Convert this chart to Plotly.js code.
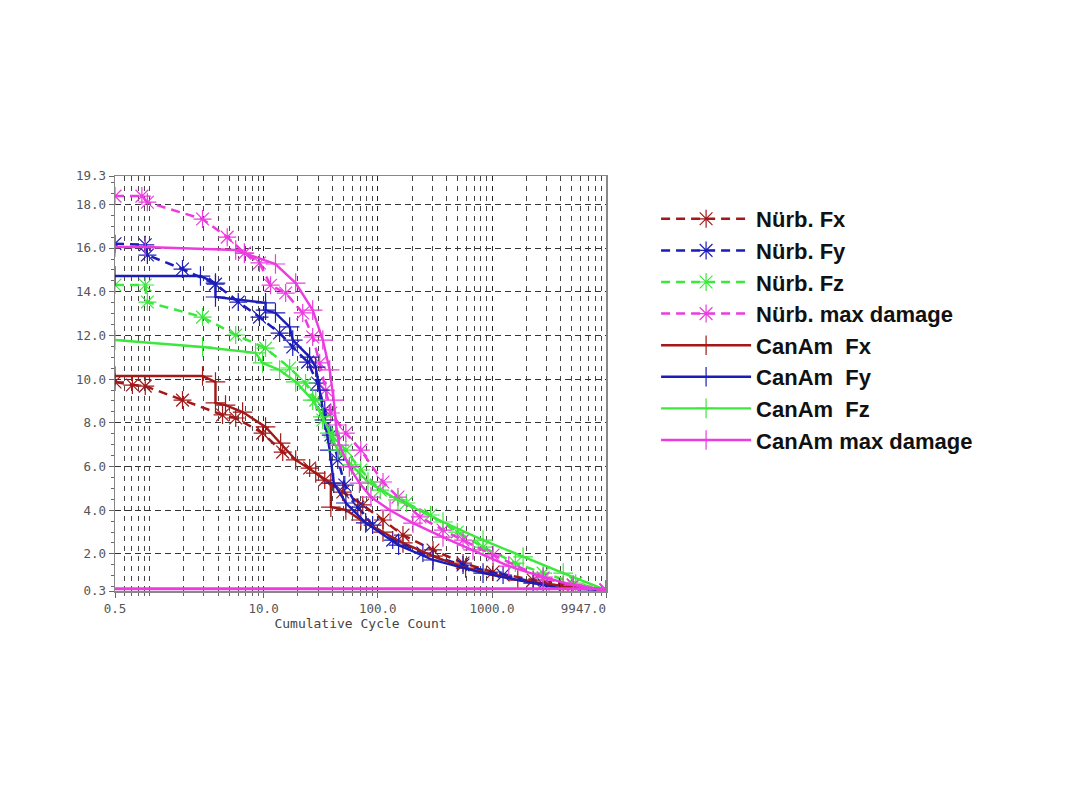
<!DOCTYPE html>
<html>
<head>
<meta charset="utf-8">
<script src="https://cdn.plot.ly/plotly-3.0.1.min.js"></script>
<style>
    html, body { margin: 0; padding: 0; background: white; }
    #chart { width: 1080px; height: 810px; }
</style>
</head>
<body>
<div id="chart"></div>
<script>
// Level values (x = cumulative cycle count, y = load level)
const nurbFxX = [0.5, 0.71, 0.92, 1.95, 4.37, 5.7, 9.8, 14.7, 25.3, 34.3, 49.3, 73.8, 111, 166, 304, 557, 1020, 2290, 5140, 9947];
const nurbFxY = [9.87, 9.73, 9.68, 9.04, 8.36, 8.22, 7.53, 6.66, 5.93, 5.38, 4.83, 4.24, 3.55, 2.86, 2.18, 1.58, 1.17, 0.80, 0.57, 0.34];

const nurbFyX = [0.5, 0.92, 0.96, 1.95, 3.79, 6.0, 9.2, 13.8, 18.0, 24.3, 29.7, 34.3, 38.8, 44.6, 51.4, 66.8, 90, 135, 248, 557, 1249, 2800, 9947];
const nurbFyY = [16.2, 16.15, 15.68, 15.04, 14.35, 13.53, 12.84, 12.11, 11.47, 10.78, 9.82, 8.59, 7.44, 6.30, 5.15, 4.14, 3.32, 2.63, 2.04, 1.49, 1.03, 0.62, 0.34];

const nurbFzX = [0.5, 0.92, 0.96, 2.92, 5.7, 10.4, 16.9, 23.3, 28.6, 33.0, 40.3, 52.5, 71, 105, 178, 290, 496, 834, 1600, 2800, 5400, 9947];
const nurbFzY = [14.31, 14.31, 13.53, 12.84, 12.02, 11.42, 10.51, 9.82, 9.04, 8.13, 7.35, 6.75, 5.84, 4.92, 4.33, 3.78, 3.0, 2.31, 1.58, 1.12, 0.66, 0.34];

const nurbMaxX = [0.5, 0.86, 0.96, 2.92, 4.8, 6.8, 9.2, 11.5, 15.6, 22.0, 26.9, 31.0, 35, 38.8, 52.5, 71, 111, 150, 234, 372, 557, 1020, 2800, 5140, 9947];
const nurbMaxY = [18.38, 18.38, 18.1, 17.33, 16.5, 15.77, 15.32, 14.3, 13.94, 13.03, 11.93, 10.74, 9.5, 8.45, 7.53, 6.75, 5.29, 4.6, 3.69, 3.09, 2.63, 1.95, 0.90, 0.57, 0.34];

const canAmFxX = [0.5, 2.92, 3.79, 3.79, 4.64, 6.55, 10.4, 14.1, 19.1, 28.6, 38.8, 38.8, 52.5, 71, 111, 166, 304, 587, 1680, 4200, 9947];
const canAmFxY = [10.14, 10.14, 9.87, 8.91, 8.81, 8.49, 7.81, 7.07, 6.30, 5.70, 5.24, 4.14, 4.01, 3.55, 3.0, 2.5, 1.9, 1.35, 0.80, 0.53, 0.34];

const canAmFyX = [0.5, 2.8, 3.79, 3.79, 10.4, 10.4, 12.7, 16.9, 18.0, 25.3, 28.6, 31.0, 34.3, 37.9, 41.1, 52.5, 78.3, 152, 304, 834, 2290, 3890, 9947];
const canAmFyY = [14.72, 14.72, 14.4, 13.76, 13.49, 13.16, 13.03, 12.39, 11.79, 11.01, 10.55, 9.5, 8.13, 6.75, 5.24, 4.33, 3.42, 2.4, 1.72, 1.12, 0.66, 0.43, 0.34];

const canAmFzX = [0.5, 2.92, 8.5, 9.8, 13.8, 19.1, 26.9, 33.0, 37.9, 44.6, 58.8, 82, 150, 372, 834, 1870, 4200, 9947];
const canAmFzY = [11.79, 11.47, 11.2, 10.74, 10.42, 9.87, 9.04, 8.27, 7.53, 6.75, 6.07, 5.29, 4.47, 3.46, 2.63, 1.86, 1.12, 0.34];

const canAmMaxX = [0.5, 0.92, 5.7, 6.8, 12.7, 19.1, 26.9, 33.0, 37.9, 41.1, 43.0, 46.0, 56.3, 69.0, 87, 128, 203, 372, 681, 1400, 2800, 5140, 9947];
const canAmMaxY = [16.05, 16.05, 15.91, 15.77, 15.27, 14.4, 13.16, 11.79, 10.42, 9.04, 7.9, 6.98, 5.98, 5.24, 4.6, 4.0, 3.41, 2.77, 2.18, 1.44, 0.94, 0.57, 0.34];

// flat magenta line along the bottom of the plot
const canAmBaseX = [0.5, 9947];
const canAmBaseY = [0.4, 0.4];

// Axis ticks
const xTickVals = [0.5, 10, 100, 1000, 9947];
const xTickText = ['0.5', '10.0', '100.0', '1000.0', '9947.0\u00a0\u00a0\u00a0\u00a0\u00a0\u00a0'];
const yTickVals = [0.3, 2, 4, 6, 8, 10, 12, 14, 16, 18, 19.3];
const yTickText = ['0.3', '2.0', '4.0', '6.0', '8.0', '10.0', '12.0', '14.0', '16.0', '18.0', '19.3'];

const darkRed = '#a31818';
const blue = '#1c1cb8';
const green = '#3ce83c';
const magenta = '#ec3cdf';

// Nürb. runs: dashed with asterisks, CanAm runs: solid with crosses
function nurbTrace(name, x, y, color) {
    return {
        x: x, y: y, name: name,
        type: 'scatter', mode: 'lines+markers',
        line: { color: color, width: 2.5, dash: '9px,6px' },
        marker: { symbol: 'asterisk-open', size: 15, line: { color: color, width: 1.2 } }
    };
}

function canAmTrace(name, x, y, color) {
    return {
        x: x, y: y, name: name,
        type: 'scatter', mode: 'lines+markers',
        line: { color: color, width: 2.4 },
        marker: { symbol: 'cross-thin-open', size: 14, line: { color: color, width: 1.2 } }
    };
}

const traces = [
    nurbTrace('Nürb. Fx', nurbFxX, nurbFxY, darkRed),
    nurbTrace('Nürb. Fy', nurbFyX, nurbFyY, blue),
    nurbTrace('Nürb. Fz', nurbFzX, nurbFzY, green),
    nurbTrace('Nürb. max damage', nurbMaxX, nurbMaxY, magenta),
    canAmTrace('CanAm\u00a0 Fx', canAmFxX, canAmFxY, darkRed),
    canAmTrace('CanAm\u00a0 Fy', canAmFyX, canAmFyY, blue),
    canAmTrace('CanAm\u00a0 Fz', canAmFzX, canAmFzY, green),
    canAmTrace('CanAm max damage', canAmMaxX, canAmMaxY, magenta),
    {
        x: canAmBaseX, y: canAmBaseY,
        type: 'scatter', mode: 'lines',
        line: { color: magenta, width: 3 },
        showlegend: false, hoverinfo: 'skip'
    }
];

const tickFont = { family: 'DejaVu Sans Mono', size: 12.5, color: '#555' };

const layout = {
    width: 1080,
    height: 810,
    margin: { l: 115, r: 474, t: 176, b: 219 },
    paper_bgcolor: 'white',
    plot_bgcolor: 'white',
    showlegend: true,
    xaxis: {
        type: 'log',
        range: [Math.log10(0.5), Math.log10(9947)],
        tickmode: 'array',
        tickvals: xTickVals,
        ticktext: xTickText,
        tickfont: tickFont,
        ticks: 'outside',
        ticklen: 5,
        tickcolor: '#666',
        showline: true,
        mirror: true,
        linecolor: '#888',
        linewidth: 1.5,
        showgrid: true,
        gridcolor: '#222',
        griddash: '5px,5px',
        gridwidth: 1,
        zeroline: false,
        minor: {
            dtick: 'D1',
            ticks: 'outside',
            ticklen: 3,
            tickcolor: '#666',
            showgrid: true,
            gridcolor: '#444',
            griddash: '5px,5px',
            gridwidth: 1
        },
        title: {
            text: 'Cumulative Cycle Count',
            font: { family: 'DejaVu Sans Mono', size: 13, color: '#444' },
            standoff: 4
        }
    },
    yaxis: {
        range: [0.3, 19.3],
        tickmode: 'array',
        tickvals: yTickVals,
        ticktext: yTickText,
        tickfont: tickFont,
        ticks: 'outside',
        ticklen: 5,
        tickcolor: '#666',
        showline: true,
        mirror: true,
        linecolor: '#888',
        linewidth: 1.5,
        showgrid: true,
        gridcolor: '#333',
        griddash: '6px,4px',
        gridwidth: 1,
        zeroline: false,
        minor: {
            dtick: 0.5,
            tick0: 0,
            ticks: 'outside',
            ticklen: 3,
            tickcolor: '#666',
            showgrid: false
        }
    },
    legend: {
        x: 1.102,
        y: 0.947,
        xanchor: 'left',
        yanchor: 'top',
        bgcolor: 'rgba(0,0,0,0)',
        itemwidth: 90,
        tracegroupgap: 0,
        font: { family: 'Liberation Sans', size: 22, color: '#111', weight: 'bold' }
    }
};

Plotly.newPlot('chart', traces, layout, { displayModeBar: false, staticPlot: true });
</script>
</body>
</html>
